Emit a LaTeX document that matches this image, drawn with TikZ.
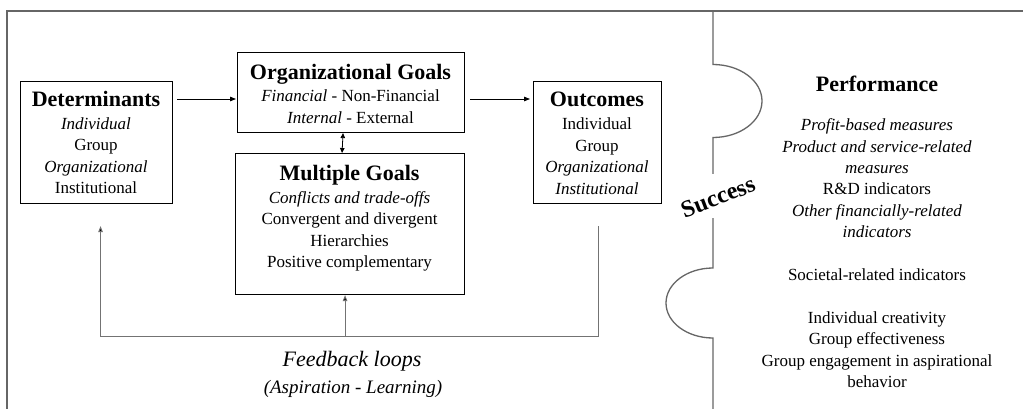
\documentclass[tikz,border=0pt]{standalone}
\usepackage{fontspec}
\setmainfont{LiberationSerif}[Extension=.ttf,UprightFont=*-Regular,BoldFont=*-Bold,ItalicFont=*-Italic,BoldItalicFont=*-BoldItalic]
\usetikzlibrary{arrows.meta,calc}
\definecolor{framegray}{gray}{0.4}
\definecolor{fbgray}{gray}{0.45}
\newcommand\mylines[1]{\begin{tabular}[t]{@{}c@{}}#1\end{tabular}}
\newcommand\bodyfnt{\fontsize{17}{21.4}\selectfont}
\newcommand\ttlfnt{\fontsize{22}{26}\selectfont\bfseries}
\begin{document}
\begin{tikzpicture}[x=1pt,y=-1pt,
  box/.style={draw=black,line width=1.1pt,rectangle,inner sep=0pt,anchor=north west},
  ttl/.style={font=\ttlfnt,anchor=base,inner sep=0pt},
  body/.style={font=\bodyfnt,anchor=base,inner sep=0pt},
  frame/.style={draw=framegray,line width=1.3pt},
  arr/.style={draw=black,line width=0.8pt,-{Triangle[length=6pt,width=4.5pt]}},
  darr/.style={draw=black,line width=0.8pt,{Triangle[length=5pt,width=4.5pt]}-{Triangle[length=5pt,width=4.5pt]}},
  fb/.style={draw=fbgray,line width=0.9pt},
  fbarr/.style={fb,-{Triangle[length=6pt,width=4.5pt,fill=black]}}]
\useasboundingbox (0,0) rectangle (1023,409);
\fill[white] (0,0) rectangle (1023,409);

% frame and puzzle edge
\draw[frame] (7,409) -- (7,11) -- (1023,11);
\draw[frame] (713,11) -- (713,64.5)
  arc[start angle=90,end angle=-90,x radius=49pt,y radius=36.5pt] -- (713,174);
\draw[frame] (713,218) -- (713,268)
  arc[start angle=90,end angle=270,x radius=47pt,y radius=35pt] -- (713,409);

% boxes
\node[box,minimum width=152pt,minimum height=122pt] (det) at (20,81) {};
\node[box,minimum width=227pt,minimum height=80pt] (org) at (237,52) {};
\node[box,minimum width=229pt,minimum height=141pt] (mg) at (235,153) {};
\node[box,minimum width=128pt,minimum height=122pt] (out) at (533,81) {};

% texts
\node[ttl] (detT) at (96,107) {Determinants};
\node[body] (detB) at (96,129.5) {\mylines{\textit{Individual}\\Group\\\textit{Organizational}\\Institutional}};
\node[ttl] (orgT) at (350.5,79.5) {Organizational Goals};
\node[body] (orgB) at (350.5,101.7) {\mylines{\textit{Financial} - Non-Financial\\\textit{Internal} - External}};
\node[ttl] (mgT) at (349.5,181) {Multiple Goals};
\node[body] (mgB) at (349.5,203.5) {\mylines{\textit{Conflicts and trade-offs}\\Convergent and divergent\\Hierarchies\\Positive complementary}};
\node[ttl] (outT) at (597,107) {Outcomes};
\node[body] (outB) at (597,130) {\mylines{Individual\\Group\\\textit{Organizational}\\\textit{Institutional}}};
\node[ttl] (perfT) at (877,91.7) {Performance};
\node[body] (perfB) at (877,130.7) {\mylines{\textit{Profit-based measures}\\\textit{Product and service-related}\\\textit{measures}\\R\&D indicators\\\textit{Other financially-related}\\\textit{indicators}\\ \\Societal-related indicators\\ \\Individual creativity\\Group effectiveness\\Group engagement in aspirational\\behavior}};
\node[font=\fontsize{24}{28}\selectfont\bfseries,rotate=21,inner sep=0pt] (succ) at (718,197) {Success};
\node[font=\fontsize{22}{26}\selectfont\itshape,anchor=base,inner sep=0pt] (fbT) at (352,366) {Feedback loops};
\node[font=\fontsize{19}{23}\selectfont\itshape,anchor=base,inner sep=0pt] (fbS) at (353,393) {(Aspiration - Learning)};

% connectors
\coordinate (a1) at ([xshift=4pt,yshift=-18pt]det.north east);
\draw[arr] (a1) -- ([xshift=-1pt]a1 -| org.west);
\coordinate (a2) at ([xshift=5pt]a1 -| org.east);
\draw[arr] (a2) -- ([xshift=-3pt]a2 -| out.west);
\draw[darr] ([xshift=-8pt]org.south) -- ([xshift=-8pt]mg.north);

\coordinate (fbBase) at (0,336);
\coordinate (fbOut) at ([xshift=1pt,yshift=-22pt]out.south);
\coordinate (fbDet) at ([xshift=4pt,yshift=-22pt]det.south);
\draw[fbarr] (fbOut) -- (fbOut |- fbBase) -- (fbDet |- fbBase) -- (fbDet);
\draw[fbarr] ([xshift=-5pt]mg.south |- fbBase) -- ([xshift=-5pt]mg.south);
\end{tikzpicture}
\end{document}
